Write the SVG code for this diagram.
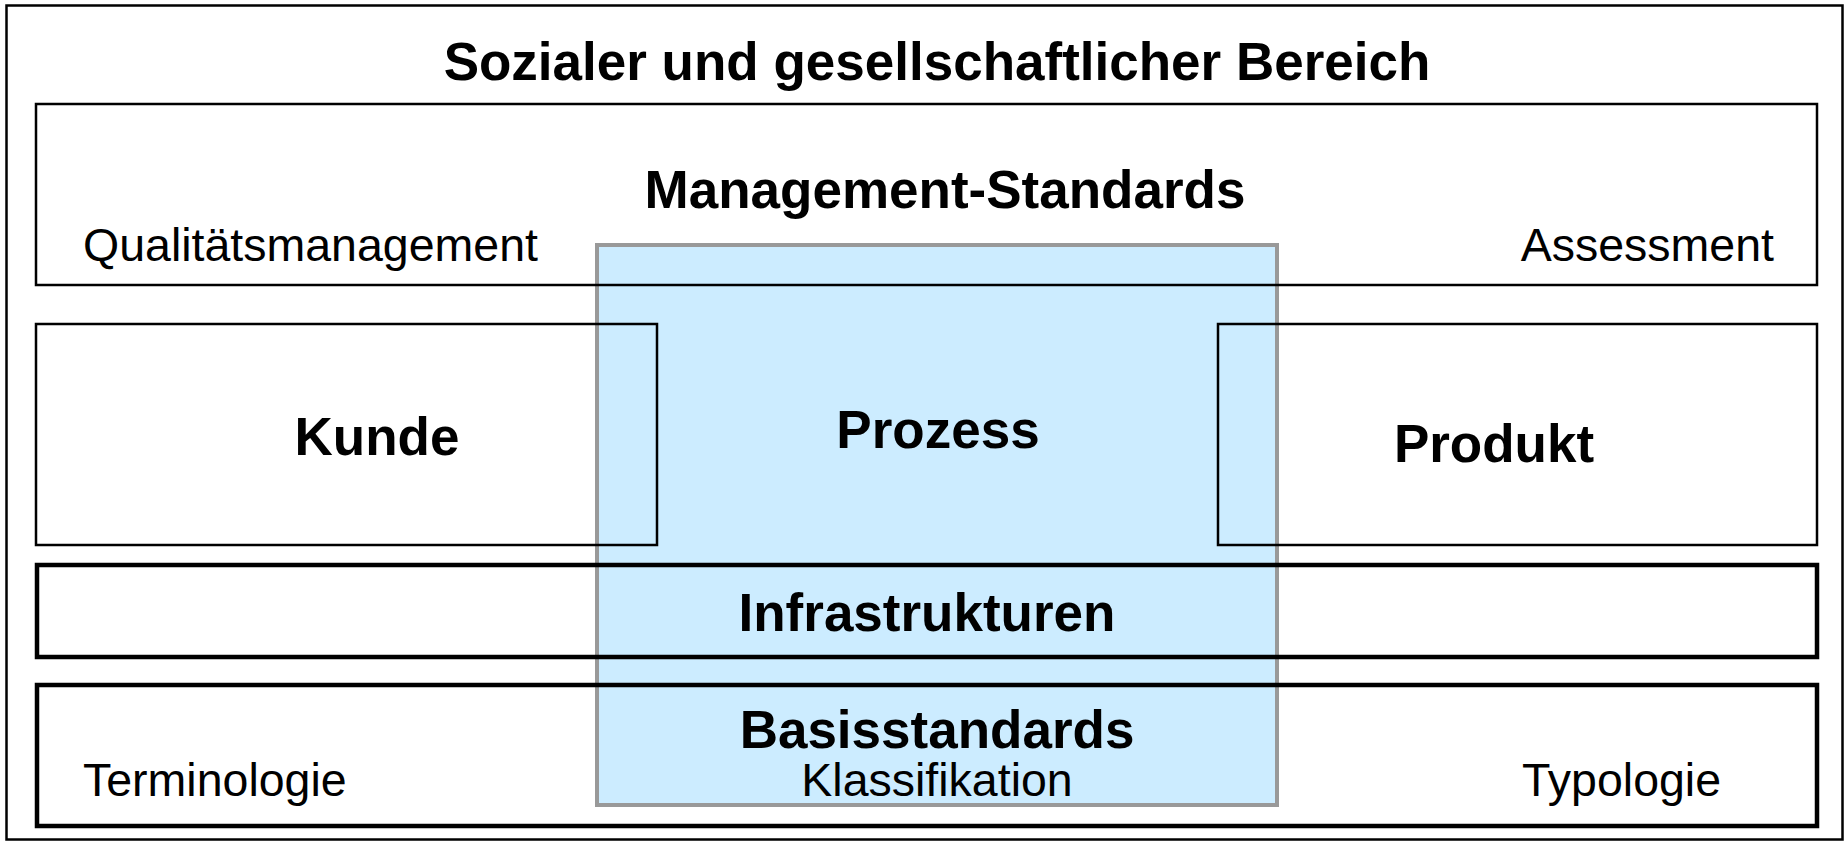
<svg xmlns="http://www.w3.org/2000/svg" width="1847" height="843" viewBox="0 0 1847 843">
<style>
.b{font-family:"Liberation Sans",Arial,sans-serif;font-weight:bold;font-size:53px;fill:#000}
.r{font-family:"Liberation Sans",Arial,sans-serif;font-size:46.5px;fill:#000}
.box{fill:none;stroke:#000;stroke-width:2.5}
.thick{fill:none;stroke:#000;stroke-width:4.5}
</style>
<rect x="0" y="0" width="1847" height="843" fill="#fff"/>
<g id="frame">
<rect x="6.5" y="5.5" width="1836" height="834" fill="none" stroke="#000" stroke-width="2.5"/>
<text class="b" x="937" y="80" text-anchor="middle" font-size="54">Sozialer und gesellschaftlicher Bereich</text>
</g>
<g id="prozess">
<rect x="597" y="245" width="680" height="560" fill="#CCECFF" stroke="#999" stroke-width="4"/>
<text class="b" x="938" y="448" text-anchor="middle">Prozess</text>
<text class="r" x="937" y="796" text-anchor="middle">Klassifikation</text>
</g>
<g id="management">
<rect class="box" x="36" y="104" width="1781" height="181"/>
<text class="b" x="945" y="208" text-anchor="middle">Management-Standards</text>
<text class="r" x="83" y="261">Qualitätsmanagement</text>
<text class="r" x="1774" y="261" text-anchor="end">Assessment</text>
</g>
<g id="kunde">
<rect class="box" x="36" y="324" width="621" height="221"/>
<text class="b" x="377" y="455" text-anchor="middle">Kunde</text>
</g>
<g id="produkt">
<rect class="box" x="1218" y="324" width="599" height="221"/>
<text class="b" x="1494" y="462" text-anchor="middle">Produkt</text>
</g>
<g id="infrastrukturen">
<rect class="thick" x="37" y="565" width="1780" height="92"/>
<text class="b" x="927" y="631" text-anchor="middle">Infrastrukturen</text>
</g>
<g id="basisstandards">
<rect class="thick" x="37" y="685" width="1780" height="141"/>
<text class="b" x="937" y="748" text-anchor="middle">Basisstandards</text>
<text class="r" x="83" y="796">Terminologie</text>
<text class="r" x="1522" y="796">Typologie</text>
</g>
<g id="connectors"></g>
</svg>
